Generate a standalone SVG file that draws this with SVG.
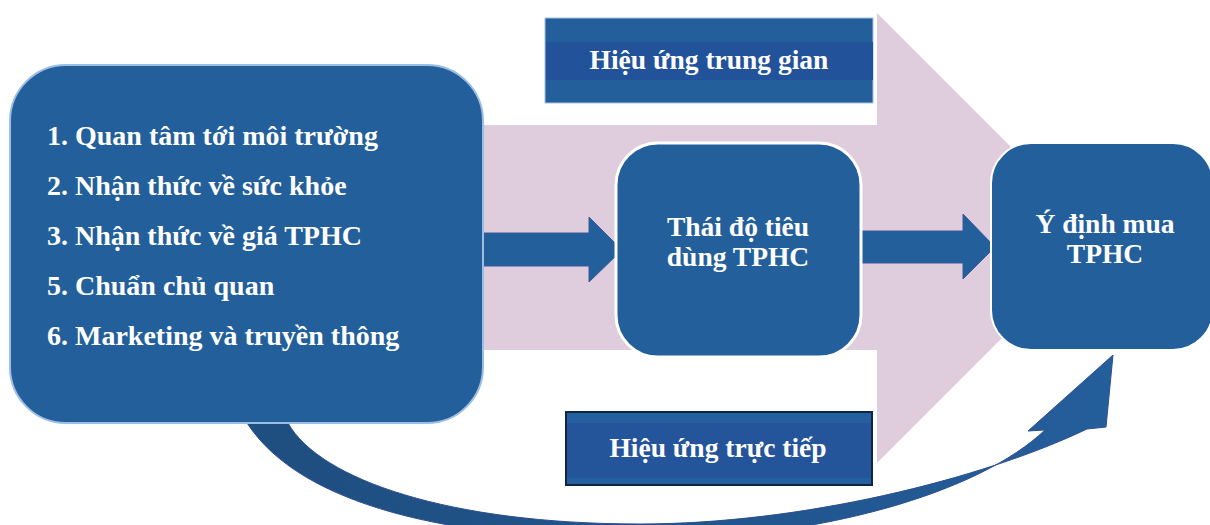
<svg xmlns="http://www.w3.org/2000/svg" width="1210" height="525" viewBox="0 0 1210 525">
  <defs>
    <linearGradient id="curveGrad" x1="0" y1="0" x2="1" y2="0">
      <stop offset="0" stop-color="#1F4E80"/>
      <stop offset="0.6" stop-color="#21568E"/>
      <stop offset="1" stop-color="#245E9B"/>
    </linearGradient>
  </defs>
  <style>
    .txt { font-family: "Liberation Serif", "Times New Roman", serif; font-weight: bold; fill: #FFFFFF; }
    .box { fill: #235F9A; }
    .arrow { fill: #235F9A; stroke: #3A5A9C; stroke-width: 1; }
  </style>
  <rect width="1210" height="525" fill="#FFFFFF"/>

  <g id="background-arrow">
    <path d="M 483,125 L 877,125 L 877,13 L 1102,238 L 877,463 L 877,350 L 483,350 Z" fill="#DFCDDD"/>
  </g>

  <g id="connectors">
    <path d="M 247,423 L 288,423 C 320,480 450,524 640,524 C 800,524 980,480 1087,429 L 1106,427 L 1113,355 L 1028,431 L 1045,430 C 980,492 820,540 640,540 C 450,540 300,505 247,423 Z" fill="url(#curveGrad)" stroke="#2E4F92" stroke-width="1"/>
    <path class="arrow" d="M 484,233 L 589,233 L 589,217 L 622,250 L 589,282 L 589,266 L 484,266 Z"/>
    <path class="arrow" d="M 860,231 L 963,231 L 963,214 L 995,247 L 963,279 L 963,263 L 860,263 Z"/>
  </g>

  <g id="node-factors">
    <rect class="box" x="10" y="65" width="473" height="358" rx="56" ry="56" stroke="#9DBEE3" stroke-width="2"/>
    <text class="txt" x="47" y="145" font-size="28">1. Quan tâm tới môi trường</text>
    <text class="txt" x="47" y="195" font-size="28">2. Nhận thức về sức khỏe</text>
    <text class="txt" x="47" y="245" font-size="28">3. Nhận thức về giá TPHC</text>
    <text class="txt" x="47" y="295" font-size="28">5. Chuẩn chủ quan</text>
    <text class="txt" x="47" y="345" font-size="28">6. Marketing và truyền thông</text>
  </g>

  <g id="node-attitude">
    <rect class="box" x="616" y="143" width="245" height="214" rx="42" ry="42" stroke="#FFFFFF" stroke-width="3"/>
    <text class="txt" x="738" y="236" font-size="27.5" text-anchor="middle">Thái độ tiêu</text>
    <text class="txt" x="738" y="266" font-size="27.5" text-anchor="middle">dùng TPHC</text>
  </g>

  <g id="node-intention">
    <rect class="box" x="991" y="143" width="222" height="207" rx="40" ry="40" stroke="#FFFFFF" stroke-width="2"/>
    <text class="txt" x="1105" y="233" font-size="27.5" text-anchor="middle">Ý định mua</text>
    <text class="txt" x="1105" y="263" font-size="27.5" text-anchor="middle">TPHC</text>
  </g>

  <g id="label-indirect">
    <rect x="545" y="18" width="328" height="85" fill="#235F9A" stroke="#A9C0DE" stroke-width="1"/>
    <rect x="546" y="42" width="327" height="38" fill="#22539A"/>
    <text class="txt" x="709" y="69" font-size="27.5" text-anchor="middle">Hiệu ứng trung gian</text>
  </g>

  <g id="label-direct">
    <rect x="566" y="412" width="306" height="73" fill="#2460A0" stroke="#0F2540" stroke-width="2"/>
    <rect x="567" y="423" width="304" height="55" fill="#24549A"/>
    <text class="txt" x="718" y="457" font-size="27.5" text-anchor="middle">Hiệu ứng trực tiếp</text>
  </g>
</svg>
